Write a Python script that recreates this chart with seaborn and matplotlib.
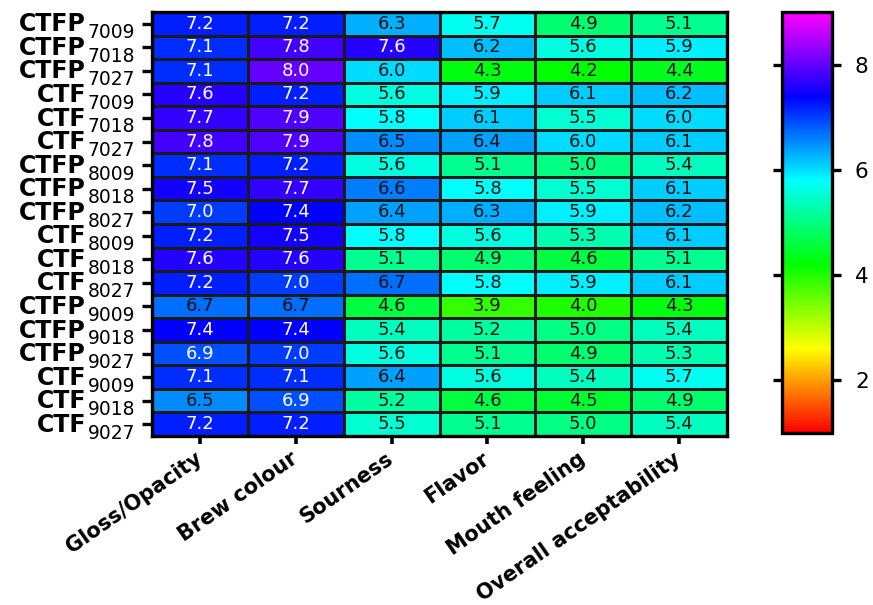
import numpy as np
import pandas as pd
import matplotlib
matplotlib.use("Agg")
import matplotlib.pyplot as plt
import matplotlib.transforms as mtransforms
from matplotlib.colors import ListedColormap, hsv_to_rgb
import seaborn as sns

# Sensory scores for each tea sample (rows) and attribute (columns)
samples = ["CTFP 7009", "CTFP 7018", "CTFP 7027", "CTF 7009", "CTF 7018", "CTF 7027",
           "CTFP 8009", "CTFP 8018", "CTFP 8027", "CTF 8009", "CTF 8018", "CTF 8027",
           "CTFP 9009", "CTFP 9018", "CTFP 9027", "CTF 9009", "CTF 9018", "CTF 9027"]
attributes = ["Gloss/Opacity", "Brew colour", "Sourness", "Flavor",
              "Mouth feeling", "Overall acceptability"]

gloss_opacity = [7.2, 7.1, 7.1, 7.6, 7.7, 7.8, 7.1, 7.5, 7.0, 7.2, 7.6, 7.2, 6.7, 7.4, 6.9, 7.1, 6.5, 7.2]
brew_colour   = [7.2, 7.8, 8.0, 7.2, 7.9, 7.9, 7.2, 7.7, 7.4, 7.5, 7.6, 7.0, 6.7, 7.4, 7.0, 7.1, 6.9, 7.2]
sourness      = [6.3, 7.6, 6.0, 5.6, 5.8, 6.5, 5.6, 6.6, 6.4, 5.8, 5.1, 6.7, 4.6, 5.4, 5.6, 6.4, 5.2, 5.5]
flavor        = [5.7, 6.2, 4.3, 5.9, 6.1, 6.4, 5.1, 5.8, 6.3, 5.6, 4.9, 5.8, 3.9, 5.2, 5.1, 5.6, 4.6, 5.1]
mouth_feeling = [4.9, 5.6, 4.2, 6.1, 5.5, 6.0, 5.0, 5.5, 5.9, 5.3, 4.6, 5.9, 4.0, 5.0, 4.9, 5.4, 4.5, 5.0]
overall       = [5.1, 5.9, 4.4, 6.2, 6.0, 6.1, 5.4, 6.1, 6.2, 6.1, 5.1, 6.1, 4.3, 5.4, 5.3, 5.7, 4.9, 5.4]

cbar_ticks = [2, 4, 6, 8]

df = pd.DataFrame(
    np.column_stack([gloss_opacity, brew_colour, sourness, flavor, mouth_feeling, overall]),
    index=samples, columns=attributes)

# Rainbow scale: red -> yellow -> green -> cyan -> blue -> magenta
hues = np.linspace(0.0, 5.0 / 6.0, 256)
rainbow = ListedColormap(hsv_to_rgb(np.column_stack([hues, np.ones(256), np.ones(256)])))

sns.set_theme(style="white")
plt.rcParams["font.family"] = ["DejaVu Sans"]

fig = plt.figure(figsize=(8.73, 6.05), dpi=100)
ax = fig.add_axes([0.1741, 0.2793, 0.6587, 0.7008])
cax = fig.add_axes([0.8958, 0.2843, 0.0573, 0.6959])

sns.heatmap(df, ax=ax, cbar_ax=cax, cmap=rainbow, vmin=1, vmax=9,
            annot=True, fmt=".1f", annot_kws={"size": 13},
            linewidths=1.0, linecolor="#1a1a1a",
            xticklabels=attributes, yticklabels=False)

# value labels: light text on the dark blue/violet cells
for t in ax.texts:
    v = float(t.get_text())
    t.set_color("white" if v >= 6.8 else "#111111")

# frame
for sp in ax.spines.values():
    sp.set_visible(True)
    sp.set_linewidth(2.4)
    sp.set_color("black")
    sp.set_zorder(5)

# x axis
ax.tick_params(axis="x", bottom=True, length=6, width=2.6, color="black",
               direction="out", pad=9)
for lab in ax.get_xticklabels():
    lab.set_rotation(35)
    lab.set_ha("right")
    lab.set_va("center")
    lab.set_rotation_mode("anchor")
    lab.set_fontsize(15)
    lab.set_fontweight("bold")
    lab.set_color("black")

# y axis: ticks with sample names drawn as bold prefix + subscript code
ax.set_yticks(np.arange(len(samples)) + 0.5)
ax.set_yticklabels([])
ax.tick_params(axis="y", left=True, length=7, width=2.4, color="black", direction="out")
ax.set_xlabel("")
ax.set_ylabel("")

ytrans = ax.get_yaxis_transform()
main_tr = mtransforms.offset_copy(ytrans, fig=fig, x=-47.5, y=-5.4, units="points")
sub_tr = mtransforms.offset_copy(ytrans, fig=fig, x=-12.0, y=-10.4, units="points")
for i, name in enumerate(samples):
    prefix, code = name.split()
    ax.text(0, i + 0.5, prefix, transform=main_tr, ha="right", va="baseline",
            fontsize=17, fontweight="bold", color="black", clip_on=False)
    ax.text(0, i + 0.5, code, transform=sub_tr, ha="right", va="baseline",
            fontsize=13.5, color="black", clip_on=False)

# colour bar
cbar = ax.collections[0].colorbar
cbar.set_ticks(cbar_ticks)
cbar.outline.set_visible(True)
cbar.outline.set_linewidth(2.4)
cbar.outline.set_edgecolor("black")
cax.tick_params(axis="y", left=True, right=True, length=6.5, width=2.4,
                color="black", direction="out", labelsize=15.5, pad=10,
                labelcolor="black")

fig.savefig("out.png", dpi=100)
